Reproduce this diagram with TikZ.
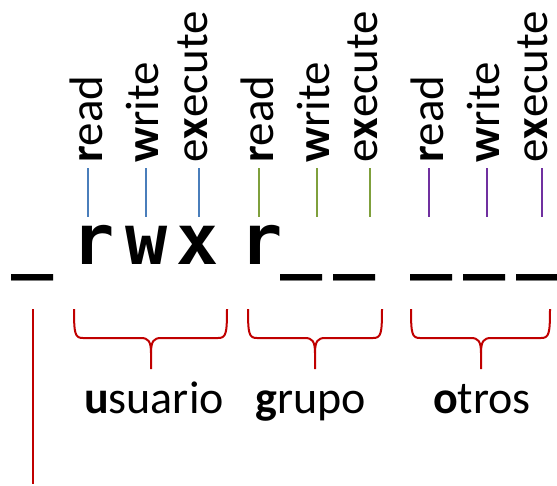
\documentclass[tikz,border=0pt]{standalone}
\usepackage{fontspec}
\setmainfont{Carlito}
\newfontfamily\monob{DejaVu Sans Mono}
\definecolor{lblue}{HTML}{4A7EBB}
\definecolor{lgreen}{HTML}{7FA03C}
\definecolor{lpurple}{HTML}{7030A0}
\definecolor{bred}{HTML}{C00000}
\newcommand\permbrace[3]{%
  \draw[brace] (#1,-309) .. controls (#1,-334) and (#1+1,-338) .. (#1+9,-338) -- (#2-10,-338) .. controls (#2-3,-338) and (#2,-341) .. (#2,-353) -- (#2,-369);
  \draw[brace] (#3,-309) .. controls (#3,-334) and (#3-1,-338) .. (#3-9,-338) -- (#2+10,-338) .. controls (#2+3,-338) and (#2,-341) .. (#2,-353);
}
\begin{document}
\begin{tikzpicture}[x=1pt,y=1pt,
  lab/.style={inner sep=0, rotate=90, anchor=base west, font=\fontsize{47}{56}\selectfont},
  big/.style={inner sep=0, anchor=base, font=\monob\bfseries\fontsize{70}{84}\selectfont},
  grp/.style={inner sep=0, anchor=base, font=\fontsize{46}{55}\selectfont},
  tick/.style={line width=1.5pt},
  brace/.style={bred, line width=2pt, line join=round}]
\useasboundingbox (0,0) rectangle (557,-485);
% permission characters
\node[big] (c0) at (33,-264) {\_};
\node[big] (c1) at (94,-264) {r};
\node[big] (c2) at (147,-264) {w};
\node[big] (c3) at (197.5,-264) {x};
\node[big] (c4) at (262,-264) {r};
\node[big] (c5) at (302,-264) {\_};
\node[big] (c6) at (355,-264) {\_};
\node[big] (c7) at (432,-264) {\_};
\node[big] (c8) at (485,-264) {\_};
\node[big] (c9) at (538,-264) {\_};
% rotated labels
\node[lab] (l1) at (102,-163) {\textbf{r}ead};
\node[lab] (l2) at (158,-163) {\textbf{w}rite};
\node[lab] (l3) at (207,-163) {e\textbf{x}ecute};
\node[lab] (l4) at (273,-163) {\textbf{r}ead};
\node[lab] (l5) at (329,-163) {\textbf{w}rite};
\node[lab] (l6) at (377,-163) {e\textbf{x}ecute};
\node[lab] (l7) at (443,-163) {\textbf{r}ead};
\node[lab] (l8) at (499,-163) {\textbf{w}rite};
\node[lab] (l9) at (547,-163) {e\textbf{x}ecute};
% tick coordinates
\foreach \i/\x in {1/88,2/146,3/199,4/259,5/317,6/370,7/429,8/487,9/542}{
  \coordinate (ta\i) at (\x,-168);
  \coordinate (tb\i) at (\x,-217);
}
\draw[tick,lblue] (ta1) -- (tb1) (ta2) -- (tb2) (ta3) -- (tb3);
\draw[tick,lgreen] (ta4) -- (tb4) (ta5) -- (tb5) (ta6) -- (tb6);
\draw[tick,lpurple] (ta7) -- (tb7) (ta8) -- (tb8) (ta9) -- (tb9);
% braces
\permbrace{74}{151}{227}
\permbrace{248}{315}{382}
\permbrace{411}{481}{550}
% type line
\coordinate (ra) at (33,-309);
\coordinate (rb) at (33,-484);
\draw[bred, line width=2pt] (ra) -- (rb);
% group labels
\node[grp] (g1) at (154,-413) {\textbf{u}suario};
\node[grp] (g2) at (311,-413) {\textbf{g}rupo};
\node[grp] (g3) at (482,-413) {\textbf{o}tros};
\end{tikzpicture}
\end{document}
